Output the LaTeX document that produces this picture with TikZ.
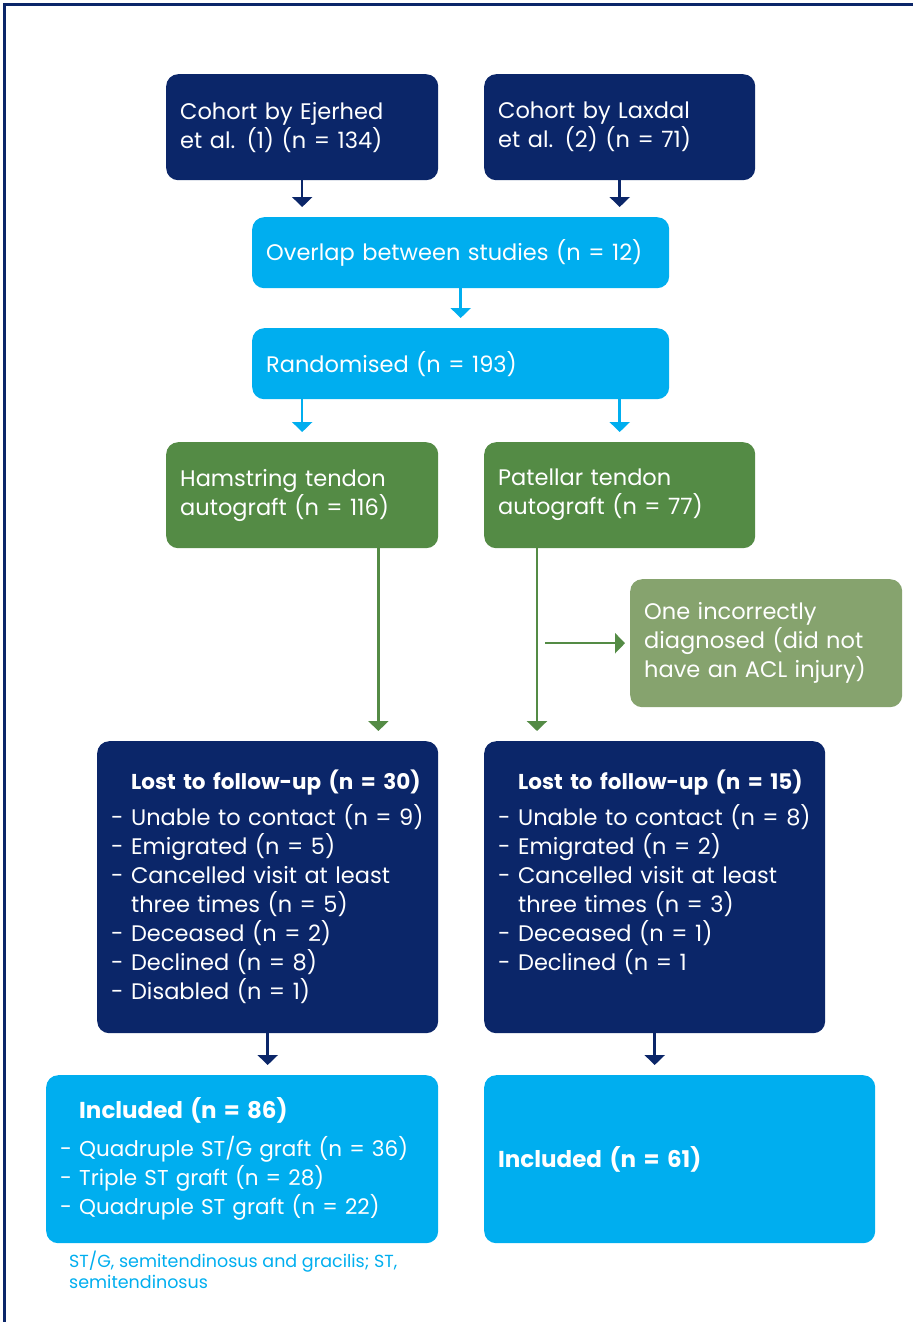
\documentclass[tikz,border=0pt]{standalone}
\usepackage{fontspec}
\setmainfont{Poppins}
\usetikzlibrary{arrows.meta}
\definecolor{navy}{HTML}{0B2669}
\definecolor{skyfill}{HTML}{00AEEF}
\definecolor{leafgreen}{HTML}{548B45}
\definecolor{palegreen}{HTML}{86A36E}
\newcommand\losthead[1]{{\fontsize{21.5}{29}\selectfont\bfseries #1}}
\newcommand\inclhead[1]{{\fontsize{23}{29}\selectfont\bfseries #1}}
\tikzset{
  flowbox/.style  = {shape=rectangle, rounded corners=12pt, anchor=north west,
                     align=left, inner xsep=14pt, inner ysep=0pt, text=white,
                     font=\fontsize{22.5}{29}\selectfont},
  navybox/.style  = {flowbox, fill=navy},
  skybox/.style   = {flowbox, fill=skyfill},
  leafbox/.style  = {flowbox, fill=leafgreen},
  palebox/.style  = {flowbox, fill=palegreen},
  flowarr/.style  = {line width=2.5pt, shorten >=10pt,
                     -{Triangle[width=20pt,length=10pt]}},
  navyarr/.style  = {flowarr, draw=navy},
  skyarr/.style   = {flowarr, draw=skyfill},
  leafarr/.style  = {flowarr, draw=leafgreen},
  footnote/.style = {anchor=north west, align=left, inner sep=0pt,
                     text=skyfill, font=\fontsize{17.5}{21}\selectfont}
}

\begin{document}
\begin{tikzpicture}[x=1pt, y=-1pt]
  \useasboundingbox (0,0) rectangle (913,1322);
  \draw[navy, line width=2.5pt] (4.5,1322) -- (4.5,4.5) -- (913,4.5);

  \node[navybox, text width=244pt, minimum height=106pt] (ejerhed) at (166,74)
    {Cohort by Ejerhed\\et al. (1) (n = 134)};
  \node[navybox, text width=243pt, minimum height=106pt] (laxdal) at (484,74)
    {Cohort by Laxdal\\et al. (2) (n = 71)};
  \node[skybox, text width=389pt, minimum height=71pt] (overlap) at (252,217)
    {Overlap between studies (n = 12)};
  \node[skybox, text width=389pt, minimum height=71pt] (random) at (252,328)
    {Randomised (n = 193)};
  \node[leafbox, text width=244pt, minimum height=106pt] (hamstring) at (166,442)
    {Hamstring tendon\\autograft (n = 116)};
  \node[leafbox, text width=243pt, minimum height=106pt] (patellar) at (484,442)
    {Patellar tendon\\autograft (n = 77)};
  \node[palebox, text width=244pt, minimum height=128pt] (wrongdx) at (630,579)
    {One incorrectly\\diagnosed (did not\\have an ACL injury)};

  \node[navybox, text width=313pt, minimum height=292pt] (lostham) at (97,741)
    {\phantom{- }\losthead{Lost to follow-up (n = 30)}\\[7pt]
     - Unable to contact (n = 9)\\
     - Emigrated (n = 5)\\
     - Cancelled visit at least\\
     \phantom{- }three times (n = 5)\\
     - Deceased (n = 2)\\
     - Declined (n = 8)\\
     - Disabled (n = 1)};
  \node[navybox, text width=313pt, minimum height=292pt] (lostpat) at (484,741)
    {\phantom{- }\losthead{Lost to follow-up (n = 15)}\\[7pt]
     - Unable to contact (n = 8)\\
     - Emigrated (n = 2)\\
     - Cancelled visit at least\\
     \phantom{- }three times (n = 3)\\
     - Deceased (n = 1)\\
     - Declined (n = 1\\
     \vphantom{()}};

  \node[skybox, text width=364pt, minimum height=168pt,
        font=\fontsize{21.5}{29}\selectfont] (inclham) at (46,1075)
    {\phantom{- }\inclhead{Included (n = 86)}\\[9pt]
     - Quadruple ST/G graft (n = 36)\\
     - Triple ST graft (n = 28)\\
     - Quadruple ST graft (n = 22)};
  \node[skybox, text width=363pt, minimum height=168pt] (inclpat) at (484,1075)
    {\inclhead{Included (n = 61)}};
  \node[footnote] (abbrev) at (69,1251)
    {ST/G, semitendinosus and gracilis; ST,\\semitendinosus};

  \draw[navyarr] (ejerhed.south) -- (ejerhed.south |- overlap.north);
  \draw[navyarr] (laxdal.south) -- (laxdal.south |- overlap.north);
  \draw[skyarr] (overlap.south) -- (random.north);
  \draw[skyarr] (random.south -| hamstring.north) -- (hamstring.north);
  \draw[skyarr] (random.south -| patellar.north) -- (patellar.north);
  \draw[leafarr] ([xshift=-60pt]hamstring.south east) -- ([xshift=-60pt]lostham.north east);
  \draw[leafarr] ([xshift=53pt]patellar.south west) -- ([xshift=53pt]lostpat.north west);
  \draw[leafarr, shorten >=5pt] ([xshift=61pt]patellar.south west |- wrongdx.west) -- (wrongdx.west);
  \draw[navyarr] (lostham.south) -- (lostham.south |- inclham.north);
  \draw[navyarr] (lostpat.south) -- (lostpat.south |- inclpat.north);
\end{tikzpicture}
\end{document}
